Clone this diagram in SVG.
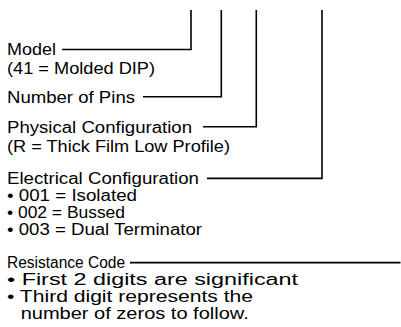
<svg xmlns="http://www.w3.org/2000/svg" width="401" height="327" viewBox="0 0 401 327">
<style>
text{font-family:"Liberation Sans",Arial,sans-serif;font-size:16px;fill:#000}
.c{fill:none;stroke:#000;stroke-width:1.6}
</style>
<rect width="401" height="327" fill="#fff"/>
<g id="connectors">
<path class="c" d="M62,49.5H191V10"/>
<path class="c" d="M143,96.8H221.3V10"/>
<path class="c" d="M203,126.8H256.3V10"/>
<path class="c" d="M207,178.4H322V10"/>
<path class="c" d="M130,262.6H400.5"/>
</g>
<g id="model">
<text x="7" y="54.5" textLength="49" lengthAdjust="spacingAndGlyphs">Model</text>
<text x="7" y="74" textLength="148" lengthAdjust="spacingAndGlyphs">(41 = Molded DIP)</text>
</g>
<g id="pins">
<text x="7" y="102.5" textLength="128" lengthAdjust="spacingAndGlyphs">Number of Pins</text>
</g>
<g id="physical">
<text x="7" y="132.5" textLength="185" lengthAdjust="spacingAndGlyphs">Physical Configuration</text>
<text x="7" y="151.5" textLength="223" lengthAdjust="spacingAndGlyphs">(R = Thick Film Low Profile)</text>
</g>
<g id="electrical">
<text x="7" y="183.5" textLength="192" lengthAdjust="spacingAndGlyphs">Electrical Configuration</text>
<text x="7" y="200.5" textLength="130" lengthAdjust="spacingAndGlyphs">• 001 = Isolated</text>
<text x="7" y="217.5" textLength="118" lengthAdjust="spacingAndGlyphs">• 002 = Bussed</text>
<text x="7" y="234.5" textLength="195" lengthAdjust="spacingAndGlyphs">• 003 = Dual Terminator</text>
</g>
<g id="resistance">
<text x="7" y="267.5" textLength="118" lengthAdjust="spacingAndGlyphs">Resistance Code</text>
<text x="7" y="284.5" textLength="291" lengthAdjust="spacingAndGlyphs">• First 2 digits are significant</text>
<text x="7" y="301.5" textLength="246" lengthAdjust="spacingAndGlyphs">• Third digit represents the</text>
<text x="20.7" y="318.5" textLength="228" lengthAdjust="spacingAndGlyphs">number of zeros to follow.</text>
</g>
</svg>
